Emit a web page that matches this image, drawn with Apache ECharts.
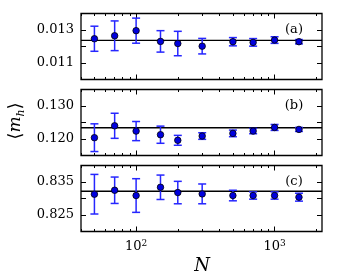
<!DOCTYPE html>
<html><head><meta charset="utf-8">
<script src="https://cdn.jsdelivr.net/npm/echarts@6/dist/echarts.min.js"></script>
<style>html,body{margin:0;padding:0;background:#fff}#c{width:339px;height:276px}</style>
</head><body><div id="c"></div>
<script>
// ---- data ----
const N = [50, 70, 100, 150, 200, 300, 500, 700, 1000, 1500];
const meanA = [0.01247, 0.01265, 0.01296, 0.01231, 0.01218, 0.01202, 0.01229, 0.01225, 0.01239, 0.01229];
const errA  = [0.00076, 0.00090, 0.00076, 0.00065, 0.00074, 0.00047, 0.00025, 0.00023, 0.00020, 0.00013];
const meanB = [0.1204, 0.1240, 0.1224, 0.1213, 0.1196, 0.1209, 0.1217, 0.1224, 0.1235, 0.1229];
const errB  = [0.0042, 0.0038, 0.0029, 0.0026, 0.0015, 0.0010, 0.0010, 0.0008, 0.0009, 0.0006];
const meanC = [0.8313, 0.8325, 0.8309, 0.8334, 0.8318, 0.8314, 0.8309, 0.8309, 0.8309, 0.8304];
const errC  = [0.0060, 0.0040, 0.0051, 0.0037, 0.0034, 0.0030, 0.0016, 0.0011, 0.0011, 0.0012];
const refLine = [0.01237, 0.1234, 0.8322];
const panelNames = ['(a)', '(b)', '(c)'];
const yMin = [0.010, 0.115, 0.820];
const yMax = [0.014, 0.135, 0.840];
const yStep = [0.001, 0.005, 0.005];
const yTickLabels = [[0.011, 0.013], [0.120, 0.130], [0.825, 0.835]];
const xMajorTicks = [100, 1000];
const xMinorTicks = [40, 50, 60, 70, 80, 90, 200, 300, 400, 500, 600, 700, 800, 900, 2000];
const xLabelExp = {100: '2', 1000: '3'};

// ---- chart ----
const chart = echarts.init(document.getElementById('c'), null, {renderer: 'canvas'});
const SERIF = 'DejaVu Serif';
const tops = [13.5, 89.5, 165.5];
const gridH = 66;
const grids = [], xAxes = [], yAxes = [], series = [];
const means = [meanA, meanB, meanC], errs = [errA, errB, errC];
const barColor = '#2626ff';

for (let i = 0; i < 3; i++) {
  grids.push({left: 81, right: 17, top: tops[i], height: gridH, show: true,
    borderColor: '#000', borderWidth: 1.3, backgroundColor: 'transparent'});
  const baseX = {type: 'log', logBase: 10, min: 40, max: 2200, gridIndex: i,
    axisLine: {show: false}, splitLine: {show: false}, minorTick: {show: false}};
  const xb = xAxes.length;
  xAxes.push(Object.assign({}, baseX, {position: 'bottom',
    axisTick: {show: true, inside: true, length: 5, lineStyle: {color: '#000', width: 1}, customValues: xMajorTicks},
    axisLabel: {show: i === 2, customValues: xMajorTicks, margin: 8,
      formatter: v => '{b|10}{s|' + (xLabelExp[Math.round(v)] || '') + '}',
      rich: {b: {fontFamily: SERIF, fontSize: 13, color: '#000'}, s: {fontFamily: SERIF, fontSize: 9, color: '#000', verticalAlign: 'top', padding: [0,0,6,0]}}}}));
  xAxes.push(Object.assign({}, baseX, {position: 'bottom',
    axisTick: {show: true, inside: true, length: 2.5, lineStyle: {color: '#000', width: 1}, customValues: xMinorTicks},
    axisLabel: {show: false}}));
  xAxes.push(Object.assign({}, baseX, {position: 'top',
    axisTick: {show: true, inside: true, length: 5, lineStyle: {color: '#000', width: 1}, customValues: xMajorTicks},
    axisLabel: {show: false}}));
  xAxes.push(Object.assign({}, baseX, {position: 'top',
    axisTick: {show: true, inside: true, length: 2.5, lineStyle: {color: '#000', width: 1}, customValues: xMinorTicks},
    axisLabel: {show: false}}));
  const yb = yAxes.length;
  const baseY = {type: 'value', gridIndex: i, min: yMin[i], max: yMax[i], interval: yStep[i],
    axisLine: {show: false}, splitLine: {show: false},
    axisTick: {show: true, inside: true, length: 5, lineStyle: {color: '#000', width: 1}}};
  yAxes.push(Object.assign({}, baseY, {position: 'left',
    axisLabel: {show: true, customValues: yTickLabels[i], margin: 7,
      formatter: v => v.toFixed(3), fontFamily: SERIF, fontSize: 13, color: '#000'}}));
  yAxes.push(Object.assign({}, baseY, {position: 'right', axisLabel: {show: false}}));

  // horizontal reference line across the full panel width
  series.push({type: 'custom', xAxisIndex: xb, yAxisIndex: yb, data: [[100, refLine[i]]],
    encode: {x: 0, y: 1}, z: 2, silent: true, clip: false,
    renderItem: (params, api) => {
      const cs = params.coordSys;
      const p = api.coord([api.value(0), api.value(1)]);
      return {type: 'line', shape: {x1: cs.x, y1: p[1], x2: cs.x + cs.width, y2: p[1]},
        style: {stroke: '#000', lineWidth: 1.4}};
    }});

  const ebData = N.map((n, k) => [n, means[i][k] - errs[i][k], means[i][k] + errs[i][k]]);
  series.push({type: 'custom', xAxisIndex: xb, yAxisIndex: yb, data: ebData,
    encode: {x: 0, y: [1, 2]}, z: 3, silent: true,
    renderItem: (params, api) => {
      const x = api.value(0);
      const p1 = api.coord([x, api.value(1)]);
      const p2 = api.coord([x, api.value(2)]);
      const hw = 4;
      const st = {stroke: barColor, lineWidth: 1.5};
      return {type: 'group', children: [
        {type: 'line', shape: {x1: p1[0], y1: p1[1], x2: p2[0], y2: p2[1]}, style: st},
        {type: 'line', shape: {x1: p1[0]-hw, y1: p1[1], x2: p1[0]+hw, y2: p1[1]}, style: st},
        {type: 'line', shape: {x1: p2[0]-hw, y1: p2[1], x2: p2[0]+hw, y2: p2[1]}, style: st}
      ]};
    }});
  series.push({type: 'scatter', xAxisIndex: xb, yAxisIndex: yb, z: 4, silent: true,
    data: N.map((n, k) => [n, means[i][k]]), symbol: 'circle', symbolSize: 6.5,
    itemStyle: {color: '#0000dd', borderColor: '#000', borderWidth: 0.8, opacity: 1}});
}

const graphics = panelNames.map((t, i) => ({type: 'text', x: 294, y: tops[i] + 16, z: 10,
  style: {text: t, fontFamily: SERIF, fontSize: 13, fill: '#000', align: 'center', verticalAlign: 'middle'}}));
graphics.push({type: 'text', x: 202, y: 266, z: 10,
  style: {text: 'N', fontFamily: SERIF, fontStyle: 'italic', fontSize: 18, fill: '#000', align: 'center', verticalAlign: 'middle'}});
graphics.push({type: 'text', x: 16, y: 121, rotation: Math.PI / 2, z: 10,
  style: {text: '{a|⟨}{m|m}{h|h}{a|⟩}', align: 'center', verticalAlign: 'middle',
    rich: {a: {fontFamily: 'DejaVu Sans', fontSize: 18, fill: '#000', lineHeight: 22},
      m: {fontFamily: SERIF, fontStyle: 'italic', fontSize: 17, fill: '#000', lineHeight: 22},
      h: {fontFamily: SERIF, fontStyle: 'italic', fontSize: 11, fill: '#000', lineHeight: 22, verticalAlign: 'bottom', padding: [6, 0, 0, 0]}}}});

chart.setOption({animation: false, backgroundColor: '#fff', grid: grids, xAxis: xAxes, yAxis: yAxes, series: series, graphic: graphics});
</script></body></html>
